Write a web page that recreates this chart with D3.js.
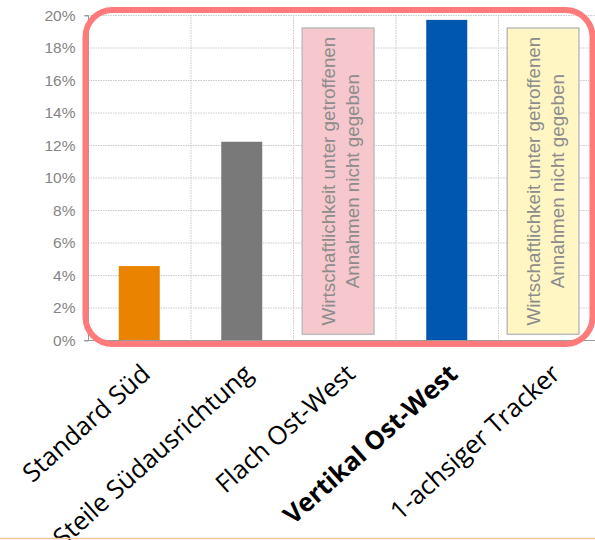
<!DOCTYPE html>
<html><head><meta charset="utf-8">
<script src="https://cdn.jsdelivr.net/npm/d3@7"></script>
<style>body{margin:0;background:#fff}svg{display:block}</style>
</head><body>
<svg id="c" width="595" height="540"></svg>
<script>
const categories = ["Standard Süd","Steile Südausrichtung","Flach Ost-West","Vertikal Ost-West","1-achsiger Tracker"];
const values = [4.55, 12.2, null, 19.7, null];
const barColors = ["#e98300","#787978",null,"#0057ae",null];
const boldLabel = [false,false,false,true,false];
const noteFills = [null,null,"#f6c8cd",null,"#fff6c4"];
const noteLines = ["Wirtschaftlichkeit unter getroffenen","Annahmen nicht gegeben"];
const yTicks = [0,2,4,6,8,10,12,14,16,18,20];
const yTickLabels = yTicks.map(v => v + "%");

const svg = d3.select("#c");
const x = d3.scaleBand().domain(categories).range([88, 600.5]).padding(0);
const y = d3.scaleLinear().domain([0, 20]).range([340, 15]);
const bw = x.bandwidth();

// gridlines
const grid = svg.append("g");
grid.selectAll("line.h").data(yTicks).join("line")
  .attr("x1", 88).attr("x2", 600).attr("y1", d => y(d)+0.5).attr("y2", d => y(d)+0.5)
  .attr("stroke", "#c9c9c9").attr("stroke-width", 1).attr("stroke-dasharray", "1.5,1");
grid.selectAll("line.v").data(categories.slice(1)).join("line")
  .attr("x1", d => x(d)+0.5).attr("x2", d => x(d)+0.5).attr("y1", y(20)).attr("y2", y(0))
  .attr("stroke", "#c9c9c9").attr("stroke-width", 1).attr("stroke-dasharray", "1.5,1");

// note boxes
const notes = categories.map((c,i) => ({c, fill: noteFills[i]})).filter(d => d.fill);
const ng = svg.append("g");
ng.selectAll("rect").data(notes).join("rect")
  .attr("x", d => x(d.c) + bw*0.09).attr("width", bw*0.7)
  .attr("y", y(19.2)).attr("height", y(0.35) - y(19.2))
  .attr("fill", d => d.fill).attr("stroke", "#bdbdbd").attr("stroke-width", 1.5);
notes.forEach(d => {
  const cx = x(d.c) + bw*0.09 + bw*0.35;
  const cy = (y(19.2) + y(0.35)) / 2;
  const t = ng.append("text")
    .attr("transform", `translate(${cx},${cy}) rotate(-90)`)
    .attr("text-anchor", "middle")
    .attr("font-family", "Liberation Sans, Arial, sans-serif")
    .attr("font-size", 18.8).attr("fill", "#8c8c8c");
  noteLines.forEach((s,k) => t.append("tspan").attr("x", 0).attr("y", (k === 0 ? -3.5 : 20.5)).text(s));
});

// bars
const bars = categories.map((c,i) => ({c, v: values[i], col: barColors[i]})).filter(d => d.v != null);
svg.append("g").selectAll("rect").data(bars).join("rect")
  .attr("x", d => x(d.c) + (bw - bw*0.4)/2).attr("width", bw*0.4)
  .attr("y", d => y(d.v)).attr("height", d => y(0) - y(d.v))
  .attr("fill", d => d.col);

// y axis
const yAxis = d3.axisLeft(y).tickValues(yTicks).tickFormat((d,i) => yTickLabels[i]).tickSize(4).tickPadding(9);
const ya = svg.append("g").attr("transform", "translate(88.5,0.5)").call(yAxis);
ya.select(".domain").attr("stroke", "#9a9a9a").attr("d", `M-4,${y(20)}H0V${y(0)}`);
ya.selectAll(".tick line").attr("stroke", "#9a9a9a");
ya.selectAll(".tick text").attr("fill", "#858585").attr("font-family", "Liberation Sans, Arial, sans-serif").attr("font-size", 15.5);

// x axis line + ticks
const xa = svg.append("g");
xa.append("line").attr("x1", 84).attr("x2", 600).attr("y1", y(0)+0.5).attr("y2", y(0)+0.5).attr("stroke", "#9a9a9a");
xa.selectAll("line.t").data(categories.slice(1)).join("line")
  .attr("x1", d => x(d)+0.5).attr("x2", d => x(d)+0.5).attr("y1", y(0)).attr("y2", y(0)+4).attr("stroke", "#9a9a9a");

// red rounded highlight
svg.append("rect").attr("x", 85.5).attr("y", 10).attr("width", 507).attr("height", 334)
  .attr("rx", 27).attr("fill", "none").attr("stroke", "#ff7b7b").attr("stroke-width", 6);

// x labels
svg.append("g").selectAll("text").data(categories).join("text")
  .attr("transform", d => `translate(${x(d) + bw/2 + 12.5},376) rotate(-42)`)
  .attr("text-anchor", "end")
  .attr("font-family", "Open Sans, sans-serif")
  .attr("font-size", 25.5)
  .attr("font-weight", (d,i) => boldLabel[i] ? "bold" : "normal")
  .attr("fill", "#000")
  .text(d => d);

// bottom rule
svg.append("line").attr("x1", 0).attr("x2", 595).attr("y1", 538.5).attr("y2", 538.5)
  .attr("stroke", "#f2c79a").attr("stroke-width", 1.5);
</script>
</body></html>
